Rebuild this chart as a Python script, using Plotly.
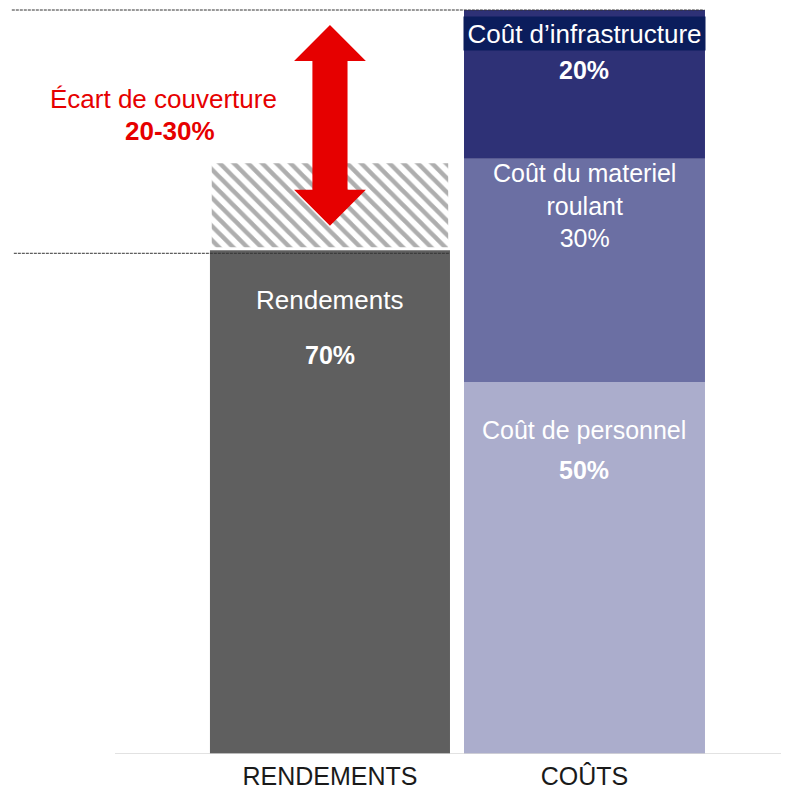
import plotly.graph_objects as go

# ---- data ----
categories = ["RENDEMENTS", "COÛTS"]
rendements_value = 67.7            # visual bar height (labelled 70%)
rendements_label = "70%"
gap_range = [68.1, 79.4]           # hatched coverage gap
cost_names = ["Coût de personnel", "Coût du materiel<br>roulant", "Coût d’infrastructure"]
cost_values = [50, 30, 20]
cost_labels = ["50%", "30%", "20%"]
gap_title = "Écart de couverture"
gap_text = "20-30%"

# ---- style ----
FONT = "Liberation Sans, Arial, sans-serif"
W = 781   # page adds an 8px body margin
H = 788
bar_w = 0.943
x_rng = [-1.265, 1.8035]
y_rng = [0, 100.27]
cost_colors = ["#abadcc", "#6b6fa3", "#2e3176"]
red = "#e60000"

fig = go.Figure()

# rendements bar
fig.add_trace(go.Bar(x=[0], y=[rendements_value], base=[0], width=bar_w,
                     marker=dict(color="#5f5f5f", line=dict(width=0)),
                     hoverinfo="skip", showlegend=False))
# hatched gap
fig.add_trace(go.Bar(x=[0], y=[gap_range[1] - gap_range[0]], base=[gap_range[0]],
                     width=bar_w * 0.985,
                     marker=dict(color="white", line=dict(width=0),
                                 pattern=dict(shape="\\", fgcolor="#5e5e5e", bgcolor="white",
                                              size=10, solidity=0.45, fillmode="overlay")),
                     hoverinfo="skip", showlegend=False))
# cost stack
bases = []
acc = 0
for v in cost_values:
    bases.append(acc)
    acc += v
total_cost = acc
for v, b, c in zip(cost_values, bases, cost_colors):
    fig.add_trace(go.Bar(x=[1], y=[v], base=[b], width=bar_w * 1.004,
                         marker=dict(color=c, line=dict(width=0)),
                         hoverinfo="skip", showlegend=False))

ann = []
# rendements labels
ann.append(dict(x=0, y=rendements_value - 6.7, text="Rendements", showarrow=False,
                font=dict(family=FONT, size=26, color="white")))
ann.append(dict(x=0, y=rendements_value - 14.1, text=rendements_label, showarrow=False,
                font=dict(family=FONT, size=25, color="white", weight=600)))
# costs labels
tops = [b + v for b, v in zip(bases, cost_values)]
ann.append(dict(x=1, y=tops[0] - 6.5, text=cost_names[0], showarrow=False,
                font=dict(family=FONT, size=25, color="white")))
ann.append(dict(x=1, y=tops[0] - 11.8, text=cost_labels[0], showarrow=False,
                font=dict(family=FONT, size=25, color="white", weight=600)))
ann.append(dict(x=1, y=tops[1] - 6.3, text=cost_names[1] + "<br>" + cost_labels[1],
                showarrow=False, align="center",
                font=dict(family=FONT, size=25, color="white")))
ann.append(dict(x=1, y=tops[2] - 3.1, text=cost_names[2], showarrow=False,
                bgcolor="#0b1d5c", width=239, height=31, borderpad=1,
                font=dict(family=FONT, size=26, color="white")))
ann.append(dict(x=1, y=tops[2] - 8.1, text=cost_labels[2], showarrow=False,
                font=dict(family=FONT, size=25, color="white", weight=600)))
# gap text
ann.append(dict(x=-0.656, y=88.0, text=gap_title,
                showarrow=False, font=dict(family=FONT, size=26, color=red)))
ann.append(dict(x=-0.628, y=83.7, text=gap_text, showarrow=False,
                font=dict(family=FONT, size=26, color=red, weight=600)))

shapes = []
# dashed reference lines
shapes.append(dict(type="line", xref="x", yref="y", x0=-1.25, x1=1 + bar_w / 2,
                   y0=total_cost, y1=total_cost, line=dict(color="#333333", width=1, dash="3px,1px")))
shapes.append(dict(type="line", xref="x", yref="y", x0=-1.242, x1=bar_w / 2,
                   y0=rendements_value - 0.4, y1=rendements_value - 0.4,
                   line=dict(color="#333333", width=1, dash="3px,1px")))
# baseline
shapes.append(dict(type="line", xref="paper", yref="y", x0=107 / W, x1=1, y0=0, y1=0,
                   line=dict(color="#d9d9d9", width=1.5)))
# double arrow
top_tip = total_cost - 2.0
bot_tip = rendements_value + 3.3
hl = 4.84
sw = 0.069
hw = 0.141
xc = 0.0
pts = [(xc, top_tip), (xc + hw, top_tip - hl), (xc + sw, top_tip - hl), (xc + sw, bot_tip + hl),
       (xc + hw, bot_tip + hl), (xc, bot_tip), (xc - hw, bot_tip + hl), (xc - sw, bot_tip + hl),
       (xc - sw, top_tip - hl), (xc - hw, top_tip - hl)]
path = "M " + " L ".join(f"{px},{py}" for px, py in pts) + " Z"
shapes.append(dict(type="path", xref="x", yref="y", path=path, fillcolor=red,
                   line=dict(width=0), layer="above"))

fig.update_layout(
    width=W, height=H,
    margin=dict(l=0, r=0, t=0, b=42),
    plot_bgcolor="white", paper_bgcolor="white",
    barmode="overlay",
    xaxis=dict(range=x_rng, tickvals=[0, 1], ticktext=categories, showgrid=False,
               zeroline=False, showline=False, ticks="", ticklabelstandoff=5,
               tickfont=dict(family=FONT, size=25, color="#1a1a1a")),
    yaxis=dict(range=y_rng, visible=False, showgrid=False, zeroline=False),
    annotations=ann, shapes=shapes,
)

fig.write_html("out.html")
